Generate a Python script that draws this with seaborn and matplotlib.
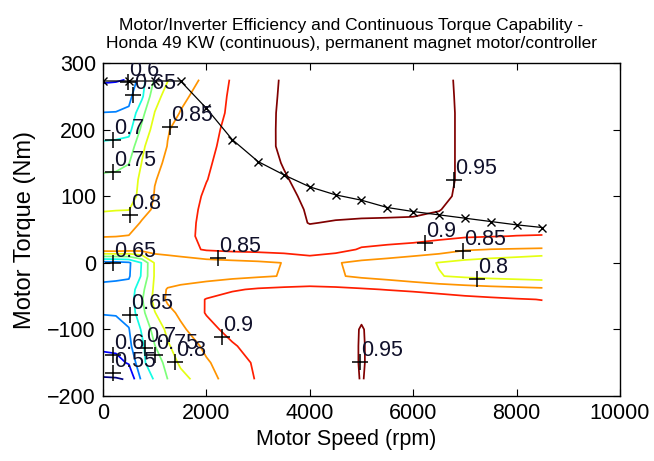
import numpy as np
import matplotlib
matplotlib.use("Agg")
import matplotlib.pyplot as plt
import seaborn as sns

# efficiency map grid
speed = [0, 250, 500, 750, 1000, 1250, 1500, 2000, 2500, 3000, 3500,
         4000, 4500, 5000, 5500, 6000, 6500, 7000, 7500, 8000, 8500]
torque = [-175, -150, -125, -100, -75, -55, -40, -20, 0, 20, 40,
          60, 80, 100, 125, 150, 175, 200, 225, 250, 275]

eff_m175 = [0.545, 0.546, 0.553, 0.66, 0.705, 0.75, 0.78, 0.832, 0.87, 0.905, 0.92,
            0.925, 0.926, 0.952, 0.928, 0.926, 0.923, 0.92, 0.916, 0.912, 0.91]
eff_m150 = [0.58, 0.585, 0.605, 0.69, 0.725, 0.765, 0.81, 0.845, 0.875, 0.91, 0.925,
            0.928, 0.928, 0.953, 0.93, 0.927, 0.924, 0.92, 0.916, 0.912, 0.91]
eff_m125 = [0.61, 0.612, 0.64, 0.69, 0.748, 0.795, 0.82, 0.86, 0.895, 0.92, 0.928,
            0.93, 0.928, 0.953, 0.93, 0.928, 0.925, 0.92, 0.916, 0.913, 0.91]
eff_m100 = [0.635, 0.637, 0.648, 0.705, 0.77, 0.81, 0.84, 0.885, 0.915, 0.925, 0.93,
            0.933, 0.932, 0.952, 0.932, 0.93, 0.926, 0.922, 0.918, 0.915, 0.913]
eff_m75 = [0.652, 0.653, 0.665, 0.735, 0.798, 0.835, 0.86, 0.903, 0.918, 0.925, 0.93,
           0.935, 0.938, 0.945, 0.938, 0.932, 0.927, 0.922, 0.918, 0.916, 0.915]
eff_m55 = [0.665, 0.667, 0.672, 0.745, 0.815, 0.858, 0.872, 0.902, 0.918, 0.925, 0.93,
           0.935, 0.937, 0.942, 0.935, 0.928, 0.92, 0.913, 0.908, 0.903, 0.899]
eff_m40 = [0.662, 0.664, 0.668, 0.735, 0.81, 0.855, 0.865, 0.88, 0.895, 0.905, 0.91,
           0.912, 0.91, 0.905, 0.898, 0.892, 0.885, 0.877, 0.87, 0.865, 0.86]
eff_m20 = [0.64, 0.642, 0.645, 0.705, 0.805, 0.815, 0.822, 0.83, 0.838, 0.845, 0.852,
           0.862, 0.855, 0.842, 0.832, 0.818, 0.802, 0.792, 0.785, 0.78, 0.775]
eff_0 = [0.63, 0.632, 0.642, 0.702, 0.805, 0.815, 0.822, 0.83, 0.836, 0.842, 0.851,
         0.86, 0.853, 0.84, 0.83, 0.815, 0.798, 0.785, 0.775, 0.765, 0.75]
eff_20 = [0.88, 0.882, 0.875, 0.87, 0.872, 0.876, 0.882, 0.905, 0.912, 0.915, 0.92,
          0.935, 0.918, 0.895, 0.89, 0.885, 0.875, 0.855, 0.849, 0.847, 0.845]
eff_40 = [0.848, 0.849, 0.852, 0.87, 0.875, 0.88, 0.887, 0.91, 0.925, 0.93, 0.935,
          0.94, 0.935, 0.925, 0.918, 0.915, 0.91, 0.905, 0.902, 0.899, 0.898]
eff_60 = [0.821, 0.823, 0.823, 0.855, 0.865, 0.875, 0.885, 0.91, 0.925, 0.932, 0.94,
          0.951, 0.948, 0.946, 0.945, 0.945, 0.943, 0.935, 0.93, 0.925, 0.92]
eff_80 = [0.796, 0.798, 0.799, 0.83, 0.858, 0.872, 0.883, 0.908, 0.922, 0.93, 0.94,
          0.953, 0.958, 0.958, 0.958, 0.956, 0.951, 0.94, 0.935, 0.93, 0.925]
eff_100 = [0.779, 0.781, 0.783, 0.812, 0.853, 0.868, 0.88, 0.905, 0.92, 0.93, 0.942,
           0.957, 0.962, 0.963, 0.962, 0.96, 0.955, 0.945, 0.94, 0.935, 0.93]
eff_125 = [0.759, 0.761, 0.775, 0.81, 0.848, 0.862, 0.872, 0.899, 0.918, 0.932, 0.947,
           0.962, 0.968, 0.97, 0.969, 0.967, 0.958, 0.945, 0.94, 0.935, 0.93]
eff_150 = [0.736, 0.738, 0.748, 0.801, 0.84, 0.857, 0.868, 0.895, 0.917, 0.935, 0.952,
           0.966, 0.968, 0.969, 0.968, 0.966, 0.958, 0.945, 0.94, 0.935, 0.93]
eff_175 = [0.709, 0.711, 0.72, 0.79, 0.83, 0.851, 0.865, 0.89, 0.915, 0.937, 0.956,
           0.965, 0.967, 0.968, 0.967, 0.965, 0.958, 0.945, 0.94, 0.935, 0.93]
eff_200 = [0.681, 0.683, 0.685, 0.76, 0.82, 0.848, 0.86, 0.885, 0.913, 0.935, 0.957,
           0.964, 0.966, 0.967, 0.966, 0.964, 0.958, 0.945, 0.94, 0.935, 0.93]
eff_225 = [0.651, 0.652, 0.658, 0.735, 0.801, 0.83, 0.852, 0.875, 0.91, 0.934, 0.957,
           0.963, 0.965, 0.966, 0.965, 0.963, 0.958, 0.945, 0.94, 0.935, 0.93]
eff_250 = [0.622, 0.624, 0.638, 0.69, 0.785, 0.815, 0.84, 0.87, 0.908, 0.932, 0.956,
           0.962, 0.964, 0.965, 0.964, 0.962, 0.957, 0.945, 0.94, 0.935, 0.93]
eff_275 = [0.594, 0.596, 0.602, 0.68, 0.755, 0.798, 0.825, 0.86, 0.905, 0.93, 0.955,
           0.96, 0.962, 0.963, 0.962, 0.96, 0.956, 0.945, 0.94, 0.935, 0.93]

levels = [0.55, 0.6, 0.65, 0.7, 0.75, 0.8, 0.85, 0.9, 0.95]

# continuous torque capability curve
max_speed = [0, 500, 1000, 1500, 2000, 2500, 3000, 3500, 4000, 4500,
             5000, 5500, 6000, 6500, 7000, 7500, 8000, 8500]
max_torque = [273, 273, 273, 273, 232, 185, 152, 132, 114, 102,
              94, 83, 77, 72, 67, 62, 57, 53]

# contour label positions (clabel "+" marks)
lab_speed = [6789, 4970, 6227, 6962, 7233, 2224, 2301, 1296, 193, 193,
             522, 580, 484, 193, 522, 193, 193, 812, 1006, 1392]
lab_torque = [124.5, -148.5, 30, 18, -24, 7.5, -111, 204, 184.5, 136.5,
              72, 252, 271.5, 0, -78, -138, -165, -127.5, -138, -148.5]
lab_text = ["0.95", "0.95", "0.9", "0.85", "0.8", "0.85", "0.9", "0.85", "0.7", "0.75",
            "0.8", "0.65", "0.6", "0.65", "0.65", "0.6", "0.55", "0.7", "0.75", "0.8"]

sns.set_theme(style="ticks")
plt.rcParams['font.family'] = ['Liberation Sans', 'DejaVu Sans']
plt.rcParams['axes.edgecolor'] = 'black'
plt.rcParams['text.color'] = 'black'
plt.rcParams['axes.labelcolor'] = 'black'
plt.rcParams['xtick.color'] = 'black'
plt.rcParams['ytick.color'] = 'black'

fig = plt.figure(figsize=(6.54, 4.61), dpi=100)
ax = fig.add_axes([0.1575, 0.141, 0.7905, 0.7223])

Z = np.array([eff_m175, eff_m150, eff_m125, eff_m100, eff_m75, eff_m55, eff_m40,
              eff_m20, eff_0, eff_20, eff_40, eff_60, eff_80, eff_100, eff_125,
              eff_150, eff_175, eff_200, eff_225, eff_250, eff_275])
ax.contour(speed, torque, Z, levels=levels, cmap='jet', linewidths=1.25)

sns.lineplot(x=max_speed, y=max_torque, ax=ax, color='black', lw=0.9,
             marker='x', markersize=6, markeredgecolor='black', markeredgewidth=1)

ax.plot(lab_speed, lab_torque, '+', color='black', ms=12, mew=1.1, ls='none')
for s, t, txt in zip(lab_speed, lab_torque, lab_text):
    ax.annotate(txt, (s, t), xytext=(1, 6), textcoords='offset pixels',
                fontsize=15.5, ha='left', va='baseline', color='#10102a',
                annotation_clip=False, clip_on=True)

ax.set_xlim(0, 10000)
ax.set_ylim(-200, 300)
ax.set_xticks([0, 2000, 4000, 6000, 8000, 10000])
ax.set_yticks([-200, -100, 0, 100, 200, 300])
ax.tick_params(direction='in', top=True, right=True, length=5, width=0.8,
               labelsize=15.5, pad=5)
for sp in ax.spines.values():
    sp.set_linewidth(1.0)
    sp.set_color('black')

ax.set_xlabel("Motor Speed (rpm)", fontsize=15.5, labelpad=4)
ax.xaxis.set_label_coords(0.47, -0.1)
ax.set_ylabel("Motor Torque (Nm)", fontsize=17, labelpad=8)
ax.set_title("Motor/Inverter Efficiency and Continuous Torque Capability -\n"
             "Honda 49 KW (continuous), permanent magnet motor/controller",
             fontsize=12.5, pad=11, linespacing=1.25, x=0.48)

fig.savefig("out.png", dpi=100)
